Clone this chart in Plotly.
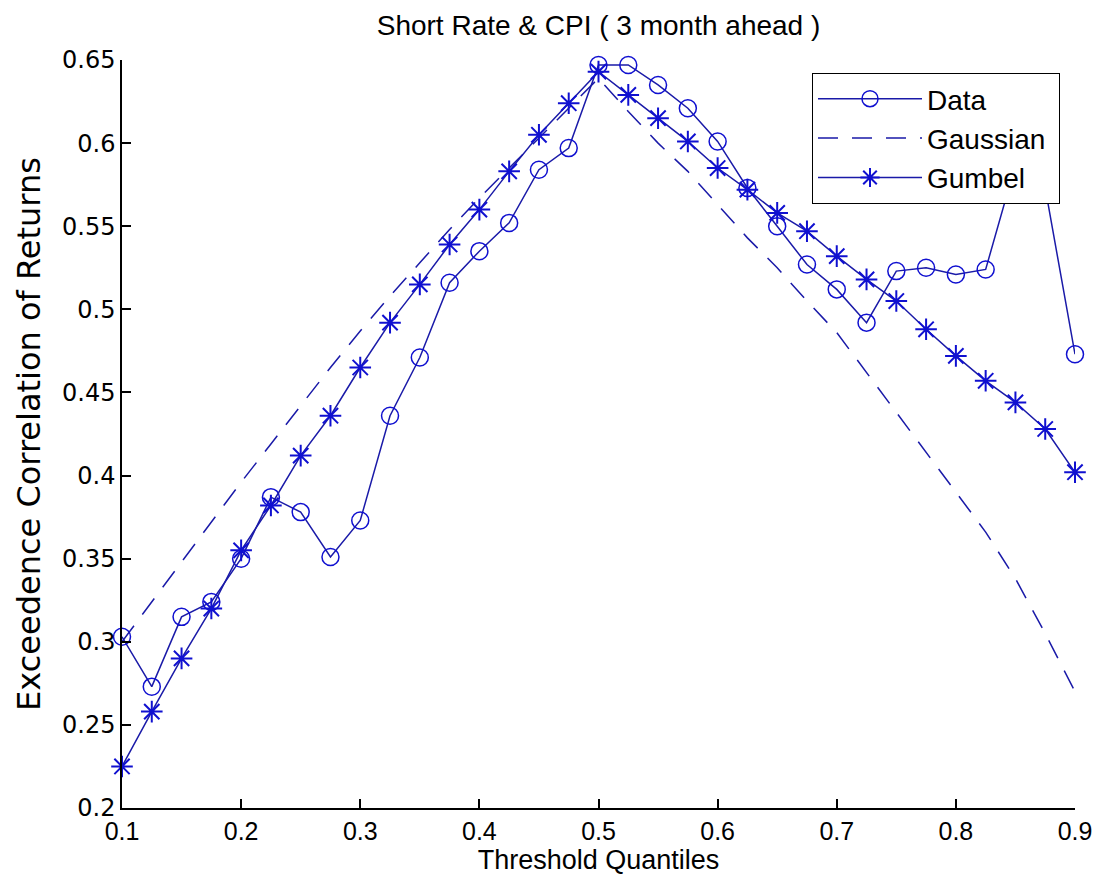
import plotly.graph_objects as go

# Threshold quantiles (0.1 to 0.9 in steps of 0.025)
quantiles = [0.1, 0.125, 0.15, 0.175, 0.2, 0.225, 0.25, 0.275, 0.3, 0.325,
             0.35, 0.375, 0.4, 0.425, 0.45, 0.475, 0.5, 0.525, 0.55, 0.575,
             0.6, 0.625, 0.65, 0.675, 0.7, 0.725, 0.75, 0.775, 0.8, 0.825,
             0.85, 0.875, 0.9]

# Empirical exceedance correlations
data_corr = [0.303, 0.273, 0.315, 0.324, 0.350, 0.387, 0.378, 0.351, 0.373, 0.436,
             0.471, 0.516, 0.535, 0.552, 0.584, 0.597, 0.647, 0.647, 0.635, 0.621,
             0.601, 0.573, 0.550, 0.527, 0.512, 0.492, 0.523, 0.525, 0.521, 0.524,
             0.587, 0.573, 0.473]

# Gaussian copula implied exceedance correlations
gauss_corr = [0.300, 0.324, 0.348, 0.372, 0.396, 0.419, 0.442, 0.465, 0.487, 0.508,
              0.528, 0.548, 0.567, 0.585, 0.603, 0.621, 0.639, 0.619, 0.600, 0.583,
              0.563, 0.543, 0.525, 0.505, 0.486, 0.462, 0.438, 0.414, 0.390, 0.366,
              0.338, 0.305, 0.270]

# Gumbel copula implied exceedance correlations
gumbel_corr = [0.225, 0.258, 0.290, 0.320, 0.355, 0.382, 0.412, 0.436, 0.465, 0.492,
               0.515, 0.539, 0.560, 0.583, 0.605, 0.624, 0.643, 0.629, 0.615, 0.601,
               0.585, 0.572, 0.558, 0.547, 0.532, 0.518, 0.505, 0.488, 0.472, 0.457,
               0.444, 0.428, 0.402]

series_names = ["Data", "Gaussian\u00a0", "Gumbel"]

x_ticks = [0.1, 0.2, 0.3, 0.4, 0.5, 0.6, 0.7, 0.8, 0.9]
y_ticks = [0.2, 0.25, 0.3, 0.35, 0.4, 0.45, 0.5, 0.55, 0.6, 0.65]

LINE_BLUE = "#1a1aa8"
MARK_BLUE = "#1010d0"
SANS = "Liberation Sans"
WIDE = "DejaVu Sans"

fig = go.Figure()

fig.add_trace(go.Scatter(
    x=quantiles, y=data_corr, name=series_names[0], mode="lines+markers",
    line=dict(color=LINE_BLUE, width=1.5),
    marker=dict(symbol="circle-open", size=17, color=MARK_BLUE, line=dict(width=1.5, color=MARK_BLUE)),
    cliponaxis=False, legendgroup="a",
))
fig.add_trace(go.Scatter(
    x=quantiles, y=gauss_corr, name=series_names[1], mode="lines",
    line=dict(color=LINE_BLUE, width=1.5, dash="20px,14px"),
    cliponaxis=False, legendgroup="b",
))
fig.add_trace(go.Scatter(
    x=quantiles, y=gumbel_corr, name=series_names[2], mode="lines+markers",
    line=dict(color=LINE_BLUE, width=1.5),
    marker=dict(symbol="asterisk-open", size=18, color=MARK_BLUE, line=dict(width=2, color=MARK_BLUE)),
    cliponaxis=False, legendgroup="c",
))

fig.update_layout(
    width=1097, height=884,
    margin=dict(l=122, r=22, t=60, b=76),
    paper_bgcolor="white", plot_bgcolor="white",
    font=dict(family=SANS, color="black", size=24),
    title=dict(text="Short Rate & CPI ( 3 month ahead )", x=0.5, xref="paper",
               y=1 - 25 / 884, yref="container", yanchor="middle",
               font=dict(family=SANS, size=28, color="black")),
    showlegend=True,
    legend=dict(x=(812 - 122) / 953, y=(808 - 73) / 748, xanchor="left", yanchor="top",
                bgcolor="white", bordercolor="black", borderwidth=1,
                font=dict(family=SANS, size=28, color="black"),
                itemwidth=104, tracegroupgap=6, traceorder="normal"),
)

fig.update_xaxes(
    range=[0.1, 0.9], tickvals=x_ticks, ticktext=[f"{v:g}" for v in x_ticks],
    automargin=False,
    showline=True, linecolor="black", linewidth=1.5, mirror=False,
    ticks="inside", ticklen=9, tickwidth=1.5, tickcolor="black",
    showgrid=False, zeroline=False,
    tickfont=dict(family=SANS, size=25),
    title=dict(text="Threshold Quantiles", standoff=6, font=dict(family=SANS, size=27)),
)
fig.update_yaxes(
    range=[0.2, 0.65], tickvals=y_ticks, ticktext=[f"{v:g}" for v in y_ticks],
    automargin=False,
    showline=True, linecolor="black", linewidth=1.5, mirror=False,
    ticks="inside", ticklen=9, tickwidth=1.5, tickcolor="black",
    showgrid=False, zeroline=False,
    tickfont=dict(family=WIDE, size=24),
    title=dict(text="Exceedence Correlation of Returns", standoff=12, font=dict(family=WIDE, size=32)),
)

fig.write_html("out.html")
